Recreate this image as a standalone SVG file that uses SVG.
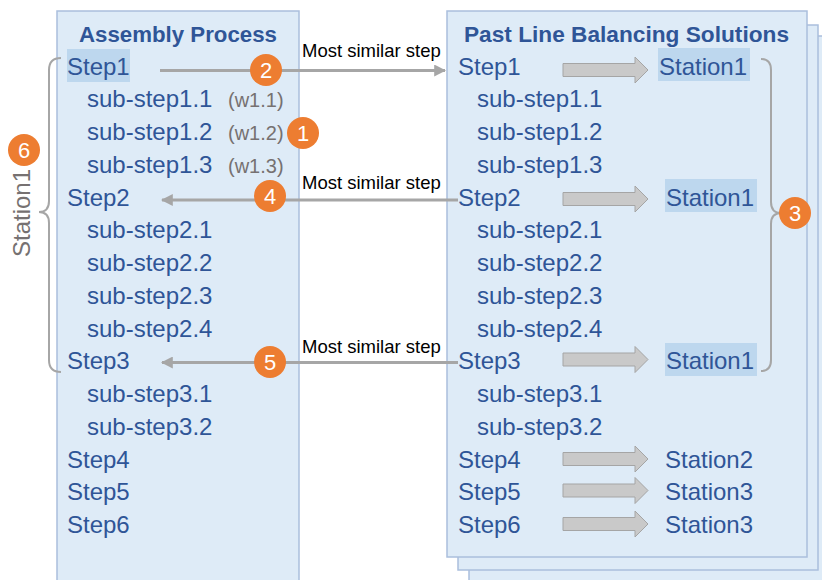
<svg xmlns="http://www.w3.org/2000/svg" width="822" height="580" viewBox="0 0 822 580">
<style>
.box{fill:#deebf7;stroke:#aabfdd;stroke-width:1.5}
.t{font-family:"Liberation Sans",Arial,sans-serif;font-size:24px;fill:#2f5597}
.ttl{font-family:"Liberation Sans",Arial,sans-serif;font-size:22px;font-weight:bold;fill:#2f5597}
.w{font-family:"Liberation Sans",Arial,sans-serif;font-size:20px;fill:#767171}
.lbl{font-family:"Liberation Sans",Arial,sans-serif;font-size:18.5px;fill:#000}
.hl{fill:#bdd7ee}
.ln{stroke:#a6a6a6;stroke-width:3;fill:none}
.brace{stroke:#a6a6a6;stroke-width:2;fill:none}
.ba{fill:#c9c9c9;stroke:#a5a5a5;stroke-width:1}
.badge{fill:#ed7d31}
.bn{font-family:"Liberation Sans",Arial,sans-serif;font-size:22px;fill:#fff;text-anchor:middle}
.st{font-family:"Liberation Sans",Arial,sans-serif;font-size:24px;fill:#767171}
</style>
<defs>
<marker id="ah" viewBox="0 0 10 10" refX="9" refY="5" markerWidth="4" markerHeight="4" orient="auto-start-reverse" markerUnits="strokeWidth">
<path d="M0,0 L10,5 L0,10 z" fill="#a6a6a6"/>
</marker>
</defs>

<g id="assembly-process">
<rect class="box" x="57" y="11" width="242" height="590"/>
<text class="ttl" x="79" y="42" textLength="198" lengthAdjust="spacingAndGlyphs">Assembly Process</text>
<rect class="hl" x="67" y="49" width="63" height="33"/>
<text class="t" x="67" y="74.5">Step1</text>
<text class="t" x="87" y="107.25">sub-step1.1</text>
<text class="t" x="87" y="140">sub-step1.2</text>
<text class="t" x="87" y="172.75">sub-step1.3</text>
<text class="w" x="228" y="107.25">(w1.1)</text>
<text class="w" x="228" y="140">(w1.2)</text>
<text class="w" x="228" y="172.75">(w1.3)</text>
<text class="t" x="67" y="205.5">Step2</text>
<text class="t" x="87" y="238.25">sub-step2.1</text>
<text class="t" x="87" y="271">sub-step2.2</text>
<text class="t" x="87" y="303.75">sub-step2.3</text>
<text class="t" x="87" y="336.5">sub-step2.4</text>
<text class="t" x="67" y="369.25">Step3</text>
<text class="t" x="87" y="402">sub-step3.1</text>
<text class="t" x="87" y="434.75">sub-step3.2</text>
<text class="t" x="67" y="467.5">Step4</text>
<text class="t" x="67" y="500.25">Step5</text>
<text class="t" x="67" y="533">Step6</text>
</g>

<g id="past-solutions">
<rect class="box" x="469" y="36" width="380" height="580"/>
<rect class="box" x="458" y="25" width="360" height="545"/>
<rect class="box" x="447" y="11" width="360" height="546"/>
<text class="ttl" x="464" y="42" textLength="325" lengthAdjust="spacingAndGlyphs">Past Line Balancing Solutions</text>
<text class="t" x="458" y="74.5">Step1</text>
<text class="t" x="477" y="107.25">sub-step1.1</text>
<text class="t" x="477" y="140">sub-step1.2</text>
<text class="t" x="477" y="172.75">sub-step1.3</text>
<text class="t" x="458" y="205.5">Step2</text>
<text class="t" x="477" y="238.25">sub-step2.1</text>
<text class="t" x="477" y="271">sub-step2.2</text>
<text class="t" x="477" y="303.75">sub-step2.3</text>
<text class="t" x="477" y="336.5">sub-step2.4</text>
<text class="t" x="458" y="369.25">Step3</text>
<text class="t" x="477" y="402">sub-step3.1</text>
<text class="t" x="477" y="434.75">sub-step3.2</text>
<text class="t" x="458" y="467.5">Step4</text>
<text class="t" x="458" y="500.25">Step5</text>
<text class="t" x="458" y="533">Step6</text>
<rect class="hl" x="658" y="48" width="92" height="33"/>
<rect class="hl" x="665" y="179" width="92" height="33"/>
<rect class="hl" x="665" y="343" width="92" height="33"/>
<text class="t" x="659" y="74.5">Station1</text>
<text class="t" x="666" y="205.5">Station1</text>
<text class="t" x="666" y="369.25">Station1</text>
<text class="t" x="665" y="467.5">Station2</text>
<text class="t" x="665" y="500.25">Station3</text>
<text class="t" x="665" y="533">Station3</text>
<path class="ba" d="M563,63.5 H635 V57 L648,70 L635,83 V76.5 H563 Z"/>
<path class="ba" d="M563,192.5 H635 V186 L648,199 L635,212 V205.5 H563 Z"/>
<path class="ba" d="M563,353 H635 V346.5 L648,359.5 L635,372.5 V366 H563 Z"/>
<path class="ba" d="M563,452.5 H635 V446 L648,459 L635,472 V465.5 H563 Z"/>
<path class="ba" d="M563,484 H635 V477.5 L648,490.5 L635,503.5 V497 H563 Z"/>
<path class="ba" d="M563,517.5 H635 V511 L648,524 L635,537 V530.5 H563 Z"/>
</g>

<g id="connectors">
<line class="ln" x1="160" y1="70.5" x2="445" y2="70.5" marker-end="url(#ah)"/>
<line class="ln" x1="458" y1="200" x2="162" y2="200" marker-end="url(#ah)"/>
<line class="ln" x1="458" y1="362.5" x2="162" y2="362.5" marker-end="url(#ah)"/>
<text class="lbl" x="302" y="57">Most similar step</text>
<text class="lbl" x="302" y="189">Most similar step</text>
<text class="lbl" x="302" y="353">Most similar step</text>
</g>

<g id="brace-left">
<path class="brace" d="M61,58 Q49,58 49,70 L49,201 Q49,212 39,212 Q49,212 49,223 L49,360 Q49,372 61,372"/>
<text class="st" transform="translate(30,213) rotate(-90)" text-anchor="middle">Station1</text>
</g>

<g id="brace-right">
<path class="brace" d="M761,59 Q771,59 771,70 L771,202 Q771,213 781,213 Q771,213 771,224 L771,360 Q771,371 761,371"/>
</g>

<g id="badge-1"><circle class="badge" cx="303" cy="133" r="16"/><text class="bn" x="303" y="141">1</text></g>
<g id="badge-2"><circle class="badge" cx="266" cy="70" r="16"/><text class="bn" x="266" y="78">2</text></g>
<g id="badge-3"><circle class="badge" cx="795" cy="213" r="16"/><text class="bn" x="795" y="221">3</text></g>
<g id="badge-4"><circle class="badge" cx="270" cy="196" r="16"/><text class="bn" x="270" y="204">4</text></g>
<g id="badge-5"><circle class="badge" cx="270" cy="362" r="16"/><text class="bn" x="270" y="370">5</text></g>
<g id="badge-6"><circle class="badge" cx="24" cy="150" r="16"/><text class="bn" x="24" y="158">6</text></g>
</svg>
